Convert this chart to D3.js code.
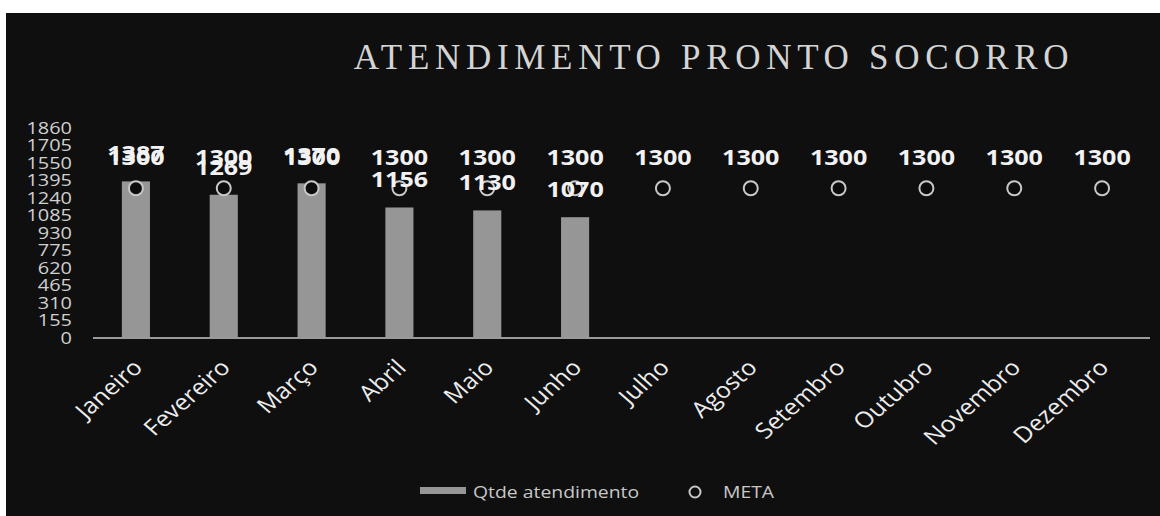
<!DOCTYPE html>
<html><head><meta charset="utf-8">
<script src="https://cdn.jsdelivr.net/npm/d3@7"></script>
<style>
html,body{margin:0;padding:0;background:#fff;}
svg{display:block;}
</style></head>
<body>
<svg id="chart" width="1160" height="516"></svg>
<script>
const months = ["Janeiro","Fevereiro","Março","Abril","Maio","Junho","Julho","Agosto","Setembro","Outubro","Novembro","Dezembro"];
const atendimento = [1387, 1269, 1370, 1156, 1130, 1070, null, null, null, null, null, null];
const meta = [1300,1300,1300,1300,1300,1300,1300,1300,1300,1300,1300,1300];
const yTicks = [0,155,310,465,620,775,930,1085,1240,1395,1550,1705,1860];

const SX = 1.14; // horizontal stretch of the original picture's text
const svg = d3.select("#chart");
svg.append("rect").attr("x",6).attr("y",13).attr("width",1154).attr("height",503).attr("fill","#0f0f0f");

const x = d3.scaleBand().domain(months).range([92,1146]).paddingInner(0.68).paddingOuter(0.34);
const y = d3.scaleLinear().domain([0,1860]).range([338,128]);
const cx = d => x(d) + x.bandwidth()/2;

// title
svg.append("text").attr("x",714).attr("y",69).attr("text-anchor","middle")
  .attr("font-family","Liberation Serif").attr("font-size",35).attr("letter-spacing",5.7)
  .attr("fill","#d4d4d4").text("ATENDIMENTO PRONTO SOCORRO");

// y axis
const yAxis = d3.axisLeft(y).tickValues(yTicks).tickFormat(d3.format("d")).tickSize(0).tickPadding(0);
const gy = svg.append("g").attr("transform","translate(72,0)").call(yAxis);
gy.select(".domain").remove();
gy.selectAll("text").attr("font-family","Open Sans").attr("font-size",16.5)
  .attr("fill","#d0d0d0").attr("transform",`scale(${SX*1.06},1)`);

// bars
const barData = months.map((m,i)=>({m, v: atendimento[i]})).filter(d=>d.v!=null);
svg.append("g").selectAll("rect").data(barData).join("rect")
  .attr("x",d=>x(d.m)).attr("y",d=>y(d.v)).attr("width",x.bandwidth()).attr("height",d=>y(0)-y(d.v))
  .attr("fill","#969696");

// baseline
svg.append("line").attr("x1",93).attr("x2",1150).attr("y1",y(0)).attr("y2",y(0))
  .attr("stroke","#9a9a9a").attr("stroke-width",2);

// meta circles
const metaData = months.map((m,i)=>({m, v: meta[i]}));
svg.append("g").selectAll("circle").data(metaData).join("circle")
  .attr("cx",d=>cx(d.m)).attr("cy",d=>y(d.v)-3)
  .attr("r",7).attr("fill","#0c0c0c").attr("stroke","#c8c8c8").attr("stroke-width",2);

// labels
svg.append("g").selectAll("text").data(metaData).join("text")
  .attr("transform",d=>`translate(${cx(d.m)},${y(d.v)-26}) scale(${SX},1)`)
  .attr("text-anchor","middle").attr("font-family","Open Sans").attr("font-weight","bold")
  .attr("font-size",22).attr("fill","#f2f2f2").text(d=>d.v);
svg.append("g").selectAll("text").data(barData).join("text")
  .attr("transform",d=>`translate(${cx(d.m)},${y(d.v)-20}) scale(${SX},1)`)
  .attr("text-anchor","middle").attr("font-family","Open Sans").attr("font-weight","bold")
  .attr("font-size",22).attr("fill","#f2f2f2").text(d=>d.v);

// x labels
svg.append("g").selectAll("text").data(months).join("text")
  .attr("transform",d=>`translate(${cx(d)+8},369) scale(${SX},1) rotate(-45)`)
  .attr("text-anchor","end")
  .attr("font-family","Open Sans").attr("font-size",22).attr("fill","#ececec").text(d=>d);

// legend
svg.append("rect").attr("x",420).attr("y",487).attr("width",46).attr("height",7).attr("fill","#969696");
svg.append("text").attr("transform",`translate(473,498) scale(${SX},1)`).attr("font-family","Open Sans").attr("font-size",17)
  .attr("fill","#c8c8c8").text("Qtde atendimento");
svg.append("circle").attr("cx",695).attr("cy",492).attr("r",5.5).attr("fill","none").attr("stroke","#c8c8c8").attr("stroke-width",2);
svg.append("text").attr("transform",`translate(723,498) scale(${SX},1)`).attr("font-family","Open Sans").attr("font-size",17)
  .attr("fill","#c8c8c8").text("META");
</script>
</body></html>
